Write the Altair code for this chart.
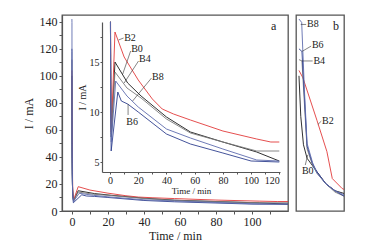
import altair as alt
import pandas as pd

FONT = "Liberation Serif"

series_names = ["B0", "B2", "B4", "B6", "B8"]
series_colors = ["#1a1a1a", "#e23b3b", "#7a7a7a", "#2f3f8f", "#5f6cae"]

B0_t = [0, 0.02, 0.05, 0.09, 0.2, 0.3, 0.4, 0.5, 0.9, 3.5, 12.5, 22, 40, 57, 80, 104, 120]
B0_v = [100, 70, 49, 39, 29, 20, 15, 13, 7.5, 15.0, 12.9, 11.6, 9.5, 8.0, 7.0, 6.0, 5.1]

B2_t = [0, 0.044, 0.2, 0.31, 0.37, 0.48, 0.5, 0.9, 3.5, 10, 20, 30, 37, 45, 57, 80, 104, 114, 120]
B2_v = [104, 98.5, 67, 44, 24, 16.6, 16.0, 8.0, 18.0, 15.5, 13.2, 11.3, 10.3, 9.8, 9.2, 8.1, 7.3, 7.0, 7.0]

B4_t = [0, 0.033, 0.06, 0.09, 0.15, 0.2, 0.3, 0.4, 0.5, 0.9, 3.5, 12, 22, 40, 57, 80, 104, 120]
B4_v = [112, 111, 80, 46, 34, 28, 20, 14, 11, 7.8, 14.0, 12.4, 11.4, 9.3, 7.9, 7.0, 6.1, 6.1]

B6_t = [0, 0.033, 0.06, 0.09, 0.15, 0.2, 0.3, 0.4, 0.5, 0.8, 5.5, 8, 12.5, 20, 40, 57, 80, 100, 120]
B6_v = [120, 118, 85, 48, 35, 29, 20, 15, 11, 6.1, 12.0, 11.1, 10.8, 10.0, 7.8, 6.8, 5.9, 5.1, 5.0]

B8_t = [0, 0.03, 0.06, 0.09, 0.15, 0.2, 0.3, 0.4, 0.5, 0.9, 4, 12, 20, 40, 57, 80, 104, 120]
B8_v = [142, 139.5, 90, 50, 36, 28, 20, 15, 12, 7.0, 13.1, 11.6, 10.5, 8.3, 7.4, 6.3, 5.2, 5.1]

# inset labels (inset data units)
inset_lab = ["B2", "B0", "B4", "B8", "B6"]
inset_lab_t = [10, 15, 20.6, 29.8, 11.5]
inset_lab_v = [17.4, 16.3, 15.3, 13.5, 9.0]
inset_lead_t1 = [6.0, 9.0, 10.0, 16.0, 12.8]
inset_lead_v1 = [17.2, 13.8, 12.9, 11.1, 10.8]
inset_lead_t2 = [9.6, 14.6, 20.2, 29.4, 12.8]
inset_lead_v2 = [17.4, 16.1, 15.1, 13.4, 9.7]

# panel b labels
b_lab = ["B8", "B6", "B4", "B2", "B0"]
b_lab_t = [0.089, 0.144, 0.16, 0.256, 0.033]
b_lab_v = [138, 123, 111, 66.8, 29.5]
b_lead_t1 = [0.02, 0.033, 0.033, 0.21, 0.07]
b_lead_v1 = [138, 118, 111, 64, 34]
b_lead_t2 = [0.08, 0.135, 0.152, 0.248, 0.097]
b_lead_v2 = [138, 122, 111, 66.5, 41.5]

panel_lab = ["a", "b"]
panel_lab_t = [112, 0.41]
panel_lab_v = [137, 137]

series_t = [B0_t, B2_t, B4_t, B6_t, B8_t]
series_v = [B0_v, B2_v, B4_v, B6_v, B8_v]
rows = []
for name, ts, vs in zip(series_names, series_t, series_v):
    for i, (t, v) in enumerate(zip(ts, vs)):
        rows.append({"series": name, "t": t, "v": v, "i": i})
df = pd.DataFrame(rows)
df_b = df[df["t"] <= 0.5]

inset_lab_df = pd.DataFrame({"lab": inset_lab, "t": inset_lab_t, "v": inset_lab_v})
inset_lead_df = pd.DataFrame({"t1": inset_lead_t1, "v1": inset_lead_v1, "t2": inset_lead_t2, "v2": inset_lead_v2})
b_lab_df = pd.DataFrame({"lab": b_lab, "t": b_lab_t, "v": b_lab_v})
b_lead_df = pd.DataFrame({"t1": b_lead_t1, "v1": b_lead_v1, "t2": b_lead_t2, "v2": b_lead_v2})
a_df = pd.DataFrame({"lab": [panel_lab[0]], "t": [panel_lab_t[0]], "v": [panel_lab_v[0]]})
bb_df = pd.DataFrame({"lab": [panel_lab[1]], "t": [panel_lab_t[1]], "v": [panel_lab_v[1]]})

W_A, H, W_B = 226, 196, 48
AX = "#555555"

color = alt.Color("series:N", scale=alt.Scale(domain=series_names, range=series_colors), legend=None)

# main scales
mx_scale = alt.Scale(domain=[-5.5, 120], nice=False, zero=False)
my_scale = alt.Scale(domain=[0, 145], nice=False, zero=False)
# inset scales
ix_scale = alt.Scale(domain=[-5.7, 120.5], range=[40, 218], nice=False, zero=False, clamp=True)
iy_scale = alt.Scale(domain=[4, 19], range=[157, 7], nice=False, zero=False, clamp=True)
# panel b scales
bx_scale = alt.Scale(domain=[-0.033, 0.5], nice=False, zero=False)
by_scale = alt.Scale(domain=[0, 145], nice=False, zero=False)

main_lines = alt.Chart(df).mark_line(strokeWidth=0.9).encode(
    x=alt.X("t:Q", scale=mx_scale, axis=alt.Axis(
        orient="bottom", values=list(range(0, 120, 10)),
        labelExpr="datum.value % 20 == 0 ? datum.label : ''",
        title="Time / min", titleFontSize=12, labelFontSize=12, tickSize=3,
        labelPadding=2, titlePadding=3)),
    y=alt.Y("v:Q", scale=my_scale, axis=alt.Axis(
        orient="left", values=list(range(0, 150, 10)),
        labelExpr="datum.value % 20 == 0 ? datum.label : ''",
        title="I / mA", titleFontSize=12, labelFontSize=12, tickSize=3,
        labelPadding=2, titlePadding=4)),
    color=color,
    order="i:Q",
)

a_text = alt.Chart(a_df).mark_text(font=FONT, fontSize=12, align="center", baseline="middle", color="#222").encode(
    x=alt.X("t:Q", scale=mx_scale, axis=None),
    y=alt.Y("v:Q", scale=my_scale, axis=None),
    text="lab:N",
)

inset_lines = alt.Chart(df).mark_line(strokeWidth=0.9).encode(
    x=alt.X("t:Q", scale=ix_scale, axis=alt.Axis(
        orient="bottom", offset=-39, values=list(range(0, 121, 10)),
        labelExpr="datum.value % 20 == 0 ? datum.label : ''",
        title="Time / min", titleFontSize=9, labelFontSize=10, tickSize=2,
        labelPadding=1, titlePadding=1)),
    y=alt.Y("v:Q", scale=iy_scale, axis=alt.Axis(
        orient="left", offset=-40, values=[5, 7.5, 10, 12.5, 15, 17.5],
        labelExpr="datum.value % 5 == 0 ? datum.label : ''",
        title="I / mA", titleFontSize=10, labelFontSize=10, tickSize=2,
        labelPadding=1, titlePadding=2)),
    color=color,
    order="i:Q",
)

inset_rules = alt.Chart(inset_lead_df).mark_rule(strokeWidth=0.6, color="#333").encode(
    x=alt.X("t1:Q", scale=ix_scale, axis=None),
    x2="t2:Q",
    y=alt.Y("v1:Q", scale=iy_scale, axis=None),
    y2="v2:Q",
)

inset_text = alt.Chart(inset_lab_df).mark_text(font=FONT, fontSize=10, align="left", baseline="middle", color="#222").encode(
    x=alt.X("t:Q", scale=ix_scale, axis=None),
    y=alt.Y("v:Q", scale=iy_scale, axis=None),
    text="lab:N",
)

panel_a = alt.layer(main_lines, a_text, inset_lines, inset_rules, inset_text).resolve_scale(
    x="independent", y="independent"
).properties(width=W_A, height=H)

b_lines = alt.Chart(df_b).mark_line(strokeWidth=0.9).encode(
    x=alt.X("t:Q", scale=bx_scale, axis=alt.Axis(
        orient="bottom", values=[0, 0.1, 0.2, 0.3, 0.4],
        labelExpr="(datum.value == 0 || abs(datum.value - 0.4) < 1e-6) ? format(datum.value, '.1f') : ''",
        title=None, labelFontSize=12, tickSize=3, labelPadding=2)),
    y=alt.Y("v:Q", scale=by_scale, axis=alt.Axis(
        orient="left", values=list(range(0, 150, 10)), labels=False, title=None, tickSize=3)),
    color=color,
    order="i:Q",
)

b_rules = alt.Chart(b_lead_df).mark_rule(strokeWidth=0.6, color="#333").encode(
    x=alt.X("t1:Q", scale=bx_scale, axis=None),
    x2="t2:Q",
    y=alt.Y("v1:Q", scale=by_scale, axis=None),
    y2="v2:Q",
)

b_text = alt.Chart(b_lab_df).mark_text(font=FONT, fontSize=10, align="left", baseline="middle", color="#222").encode(
    x=alt.X("t:Q", scale=bx_scale, axis=None),
    y=alt.Y("v:Q", scale=by_scale, axis=None),
    text="lab:N",
)

bb_text = alt.Chart(bb_df).mark_text(font=FONT, fontSize=12, align="center", baseline="middle", color="#222").encode(
    x=alt.X("t:Q", scale=bx_scale, axis=None),
    y=alt.Y("v:Q", scale=by_scale, axis=None),
    text="lab:N",
)

panel_b = alt.layer(b_lines, b_rules, b_text, bb_text).properties(width=W_B, height=H)

chart = alt.hconcat(panel_a, panel_b, spacing=4).properties(
    padding={"left": 21, "top": 14, "right": 0, "bottom": 0},
    background="white",
).configure_view(
    stroke=AX, strokeWidth=1.3
).configure_axis(
    grid=False, domainColor=AX, tickColor=AX, labelColor="#222", titleColor="#222",
    labelFont=FONT, titleFont=FONT, titleFontWeight="normal", domainWidth=1.2
)

chart.save("out.html", embed_options={"renderer": "svg", "actions": False})
